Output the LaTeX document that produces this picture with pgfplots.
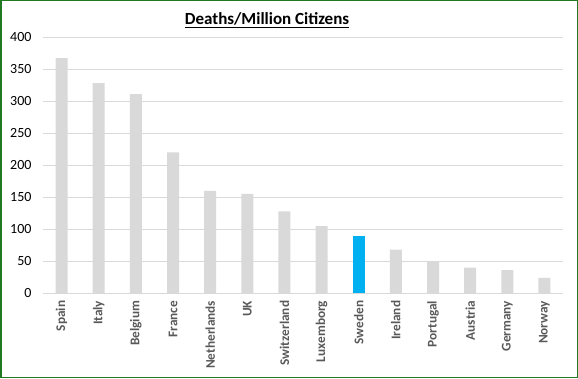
\documentclass[border=0pt]{standalone}
\usepackage{pgfplots}
\pgfplotsset{compat=1.18}
\usepackage{fontspec}
\setmainfont{Carlito}
\definecolor{barg}{HTML}{D9D9D9}
\definecolor{sweblue}{HTML}{00B0F0}
\definecolor{labgray}{HTML}{595959}
\definecolor{bordergreen}{HTML}{217A21}
\begin{document}
\begin{tikzpicture}[x=1pt,y=1pt]
\draw[bordergreen, line width=1.5pt] (0.75,0.75) rectangle (577.25,377.25);
\node[font=\fontsize{17}{20}\selectfont\bfseries] at (267,358) {\underline{Deaths/Million Citizens}};
\begin{axis}[
  at={(43pt,84.7pt)}, anchor=south west,
  scale only axis, width=520pt, height=256.3pt,
  xmin=-0.5, xmax=13.5, ymin=0, ymax=400,
  ytick={0,50,...,400},
  xtick={0,...,13},
  xticklabels={Spain,Italy,Belgium,France,Netherlands,UK,Switzerland,Luxemborg,Sweden,Ireland,Portugal,Austria,Germany,Norway},
  x tick label style={rotate=90, anchor=east, font=\fontsize{13.3}{16}\selectfont\bfseries, text=labgray},
  xticklabel shift=4pt,
  y tick label style={font=\fontsize{14}{16}\selectfont, text=black},
  yticklabel shift=8pt,
  /pgf/number format/assume math mode=true,
  major tick length=0pt,
  ymajorgrids, grid style={barg, line width=0.8pt},
  axis line style={draw=none},
  ybar, bar width=12pt, bar shift=0pt,
]
\addplot[fill=barg, draw=none] coordinates {(0,367) (1,328) (2,311) (3,220) (4,160) (5,155) (6,128) (7,105) (9,68) (10,49) (11,40) (12,36) (13,24)};
\addplot[fill=sweblue, draw=none] coordinates {(8,89)};
\end{axis}
\end{tikzpicture}
\end{document}
